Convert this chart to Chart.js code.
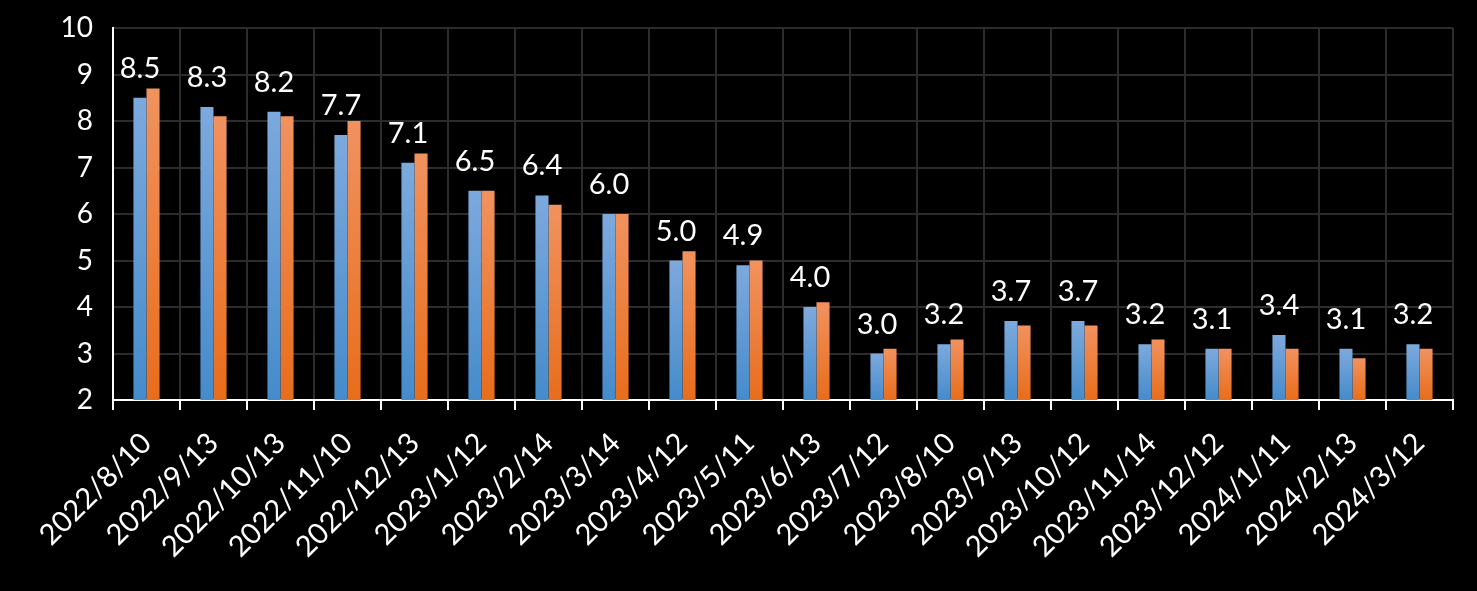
<!DOCTYPE html>
<html>
<head>
<meta charset="utf-8">
<script src="https://cdn.jsdelivr.net/npm/chart.js@4/dist/chart.umd.min.js"></script>
<style>
html,body{margin:0;padding:0;background:#000;}
#wrap{width:1477px;height:591px;position:relative;}
</style>
</head>
<body>
<div id="wrap"><canvas id="c" width="1477" height="591"></canvas></div>
<script>
const categories = ["2022/8/10","2022/9/13","2022/10/13","2022/11/10","2022/12/13","2023/1/12","2023/2/14","2023/3/14","2023/4/12","2023/5/11","2023/6/13","2023/7/12","2023/8/10","2023/9/13","2023/10/12","2023/11/14","2023/12/12","2024/1/11","2024/2/13","2024/3/12"];
const seriesBlue = [8.5,8.3,8.2,7.7,7.1,6.5,6.4,6.0,5.0,4.9,4.0,3.0,3.2,3.7,3.7,3.2,3.1,3.4,3.1,3.2];
const seriesOrange = [8.7,8.1,8.1,8.0,7.3,6.5,6.2,6.0,5.2,5.0,4.1,3.1,3.3,3.6,3.6,3.3,3.1,3.1,2.9,3.1];
const yMin = 2, yMax = 10, yStep = 1;

function grad(top, bottom){
  return function(context){
    const chart = context.chart;
    const ca = chart.chartArea;
    if(!ca || context.parsed === undefined) return bottom;
    const y = chart.scales.y;
    const yTop = y.getPixelForValue(context.parsed.y);
    const yBot = y.getPixelForValue(yMin);
    if(!isFinite(yTop) || !isFinite(yBot) || yTop===yBot) return bottom;
    const g = chart.ctx.createLinearGradient(0, yTop, 0, yBot);
    g.addColorStop(0, top);
    g.addColorStop(1, bottom);
    return g;
  };
}

const labelPlugin = {
  id: 'valueLabels',
  afterDatasetsDraw(chart){
    const ctx = chart.ctx;
    const meta = chart.getDatasetMeta(0);
    ctx.save();
    ctx.fillStyle = '#ffffff';
    ctx.font = '29px Lato';
    ctx.textAlign = 'center';
    ctx.textBaseline = 'alphabetic';
    meta.data.forEach((bar, i) => {
      ctx.fillText(seriesBlue[i].toFixed(1), bar.x, bar.y - 20);
    });
    ctx.restore();
  }
};

new Chart(document.getElementById('c'), {
  type: 'bar',
  data: {
    labels: categories,
    datasets: [
      { data: seriesBlue, backgroundColor: grad('#7DA9DD','#458BCB'), borderWidth: 0 },
      { data: seriesOrange, backgroundColor: grad('#F1925F','#E86D1B'), borderWidth: 0 }
    ]
  },
  options: {
    responsive: false,
    animation: false,
    events: [],
    layout: { padding: { top: 28, right: 24, left: 0, bottom: 0 } },
    datasets: { bar: { categoryPercentage: 0.39, barPercentage: 1.0 } },
    plugins: { legend: { display: false }, tooltip: { enabled: false } },
    scales: {
      x: {
        afterFit(s){ s.height = 191; s.paddingTop = 0; },
        grid: { color: '#2c2c2c', lineWidth: 2, tickColor: '#ffffff', tickLength: 10, offset: true },
        border: { color: '#ffffff', width: 2 },
        ticks: { color: '#ffffff', font: { family: 'Lato', size: 29 }, maxRotation: 45, minRotation: 45, autoSkip: false, padding: 16 }
      },
      y: {
        min: yMin, max: yMax,
        afterFit(s){ s.width = 113; s.paddingTop = 0; s.paddingBottom = 0; },
        grid: { color: '#2c2c2c', lineWidth: 2, drawTicks: false },
        border: { color: '#ffffff', width: 2 },
        ticks: { stepSize: yStep, color: '#ffffff', font: { family: 'Lato', size: 28 }, padding: 20 }
      }
    }
  },
  plugins: [labelPlugin]
});
</script>
</body>
</html>
